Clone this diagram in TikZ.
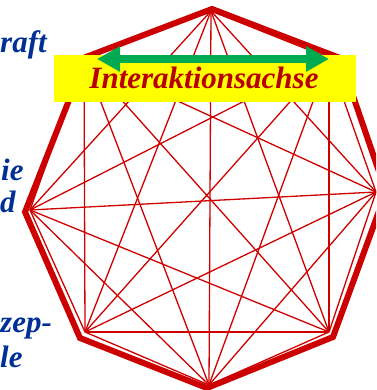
\documentclass[tikz,border=0pt]{standalone}
\usepackage{fontspec}
\setmainfont{Liberation Serif}
\usetikzlibrary{arrows.meta}
\definecolor{thinred}{RGB}{208,0,0}
\definecolor{thickred}{RGB}{204,0,0}
\definecolor{txtred}{RGB}{185,0,0}
\definecolor{txtblue}{RGB}{0,48,150}
\definecolor{boxyellow}{RGB}{255,255,0}
\definecolor{arrgreen}{RGB}{0,170,80}
\tikzset{
  thinedge/.style={draw=thinred, line width=1.3pt},
  thickedge/.style={draw=thickred, line width=6pt, line join=miter},
  bluetxt/.style={text=txtblue, font=\fontsize{31}{31}\selectfont\bfseries\itshape, inner sep=0pt, anchor=base west},
  axisbox/.style={fill=boxyellow, draw=none},
  axislabel/.style={text=txtred, font=\fontsize{31}{31}\selectfont\bfseries\itshape, inner sep=0pt, anchor=base},
  axisarrow/.style={draw=arrgreen, line width=8pt, {Triangle[length=23pt,width=24pt]}-{Triangle[length=23pt,width=24pt]}}
}
\begin{document}
\begin{tikzpicture}[x=1pt,y=-1pt]
\useasboundingbox (0,0) rectangle (376,390);
\clip (0,0) rectangle (376,390);
% thin graph vertices
\coordinate (v1) at (211,11);
\coordinate (v2) at (329,58);
\coordinate (v3) at (376,192);
\coordinate (v4) at (329,332);
\coordinate (v5) at (209,385);
\coordinate (v6) at (85,332);
\coordinate (v7) at (30,210);
\coordinate (v8) at (84,58);
\foreach \i in {1,...,7}{
  \pgfmathtruncatemacro{\s}{\i+1}
  \foreach \j in {\s,...,8}{
    \draw[thinedge] (v\i) -- (v\j);
  }
}
% thick outline
\coordinate (o1) at (212,9);
\coordinate (o2) at (340,58);
\coordinate (o3) at (386,192);
\coordinate (o4) at (333,337);
\coordinate (o5) at (207,388);
\coordinate (o6) at (80,338);
\coordinate (o7) at (25,212);
\coordinate (o8) at (86,57);
\draw[thickedge] (o1) -- (o2) -- (o3) -- (o4) -- (o5) -- (o6) -- (o7) -- (o8) -- cycle;
% yellow box with label
\path[axisbox] (54,55) rectangle (356,102);
\node[axislabel] (lab) at (204,89) {Interaktionsachse};
% green arrow
\coordinate (al) at (97,59);
\coordinate (ar) at (329,59);
\draw[axisarrow] (al) -- (ar);
% left texts
\node[bluetxt] (t1) at (0,53) {raft};
\node[bluetxt] (t2) at (1,180) {ie};
\node[bluetxt] (t3) at (0,212) {d};
\node[bluetxt] (t4) at (0,332) {zep-};
\node[bluetxt] (t5) at (0,367) {le};
\end{tikzpicture}
\end{document}
